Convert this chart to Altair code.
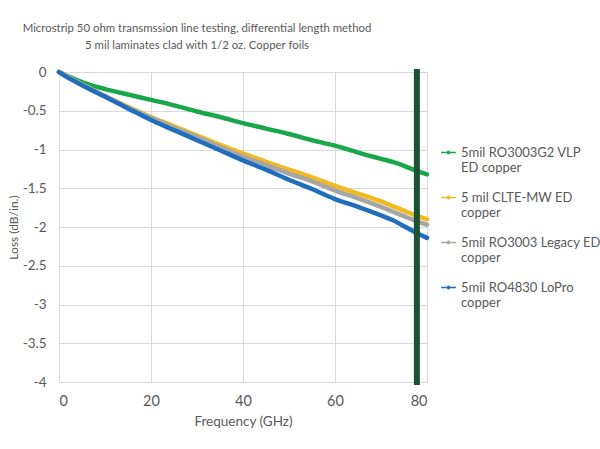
import altair as alt
import pandas as pd

freq = [0, 1, 2.5, 5, 10, 15, 20, 25, 30, 35, 40, 45, 50, 55, 60, 65, 70, 72.5, 75, 77.5, 80]
series_names = [
    "5mil RO3003G2 VLP|ED copper",
    "5 mil CLTE-MW ED|copper",
    "5mil RO3003 Legacy ED|copper",
    "5mil RO4830 LoPro|copper",
]
green = [0, -0.03, -0.07, -0.13, -0.22, -0.29, -0.36, -0.43, -0.51, -0.58, -0.66, -0.73, -0.80, -0.88, -0.95, -1.04, -1.12, -1.16, -1.21, -1.27, -1.32]
yellow = [0, -0.03, -0.08, -0.16, -0.31, -0.45, -0.58, -0.70, -0.82, -0.94, -1.05, -1.16, -1.26, -1.36, -1.47, -1.57, -1.67, -1.73, -1.79, -1.85, -1.90]
gray = [0, -0.03, -0.08, -0.16, -0.31, -0.46, -0.59, -0.72, -0.84, -0.97, -1.09, -1.20, -1.31, -1.41, -1.53, -1.63, -1.74, -1.80, -1.86, -1.92, -1.97]
blue = [0, -0.04, -0.09, -0.17, -0.32, -0.47, -0.62, -0.75, -0.88, -1.01, -1.14, -1.26, -1.39, -1.51, -1.64, -1.74, -1.85, -1.91, -1.99, -2.07, -2.14]
colors = ["#1AA64A", "#F2BA1E", "#A6A6A6", "#1F6EBE"]
marker_freq = [77.8]

rows = []
for i, (name, vals) in enumerate(zip(series_names, [green, yellow, gray, blue])):
    for f, v in zip(freq, vals):
        rows.append({"freq": f, "loss": v, "series": name, "order": i})
df = pd.DataFrame(rows)

font = "Lato"
grey_text = "#595959"

lines = alt.Chart(df).mark_line(strokeWidth=4.5, strokeCap="round", strokeJoin="round", interpolate="monotone").encode(
    x=alt.X("freq:Q", scale=alt.Scale(domain=[0, 80], nice=False),
            axis=alt.Axis(values=[0, 20, 40, 60, 80], title="Frequency (GHz)", ticks=False,
                          labelPadding=12, titlePadding=7, domainColor="#D9D9D9",
                          gridColor="#D9D9D9", titleFontWeight="normal",
                          labelFont=font, titleFont=font, labelFontSize=14.5, titleFontSize=13.5,
                          labelColor=grey_text, titleColor=grey_text)),
    y=alt.Y("loss:Q", scale=alt.Scale(domain=[-4, 0], nice=False),
            axis=alt.Axis(values=[0, -0.5, -1, -1.5, -2, -2.5, -3, -3.5, -4], title="Loss (dB/in.)",
                          ticks=False, domain=False, labelPadding=13,
                          titleX=-46, titleY=155, titleAlign="center", titleBaseline="middle",
                          labelExpr="'' + datum.value", gridColor="#D9D9D9",
                          titleFontWeight="normal",
                          labelFont=font, titleFont=font, labelFontSize=13.5, titleFontSize=12,
                          labelColor=grey_text, titleColor=grey_text)),
    color=alt.Color("series:N", scale=alt.Scale(domain=series_names, range=colors),
                    legend=alt.Legend(title=None, orient="none", legendX=381, legendY=72,
                                      labelExpr="split(datum.label, '|')",
                                      symbolType="M-1,0L1,0M-0.15,0A0.15,0.15,0,1,0,0.15,0A0.15,0.15,0,1,0,-0.15,0",
                                      symbolSize=220, symbolStrokeWidth=1.6,
                                      rowPadding=14, labelFontSize=13, labelColor=grey_text,
                                      labelFont=font, labelLimit=200, labelOffset=4)),
    order="order:Q",
    detail="series:N",
)

marker_df = pd.DataFrame({"freq": marker_freq})
bar = alt.Chart(marker_df).mark_rule(color="#1D5230", strokeWidth=6).encode(
    x="freq:Q",
    y=alt.value(-3),
    y2=alt.value(313),
)

chart = alt.layer(lines, bar).properties(
    width=368,
    height=310,
    background="white",
    title=alt.TitleParams(
        text=["Microstrip 50 ohm transmssion line testing, differential length method",
              "5 mil laminates clad with 1/2 oz. Copper foils"],
        fontSize=11.4, font=font, fontWeight="normal", color=grey_text, anchor="middle",
        dx=-46, offset=14, lineHeight=17,
    ),
    padding={"left": 59, "top": 72, "right": 173, "bottom": 67},
    autosize=alt.AutoSizeParams(type="none"),
).configure_view(stroke=None)

chart.save("out.html", embed_options={"renderer": "svg", "actions": False})
